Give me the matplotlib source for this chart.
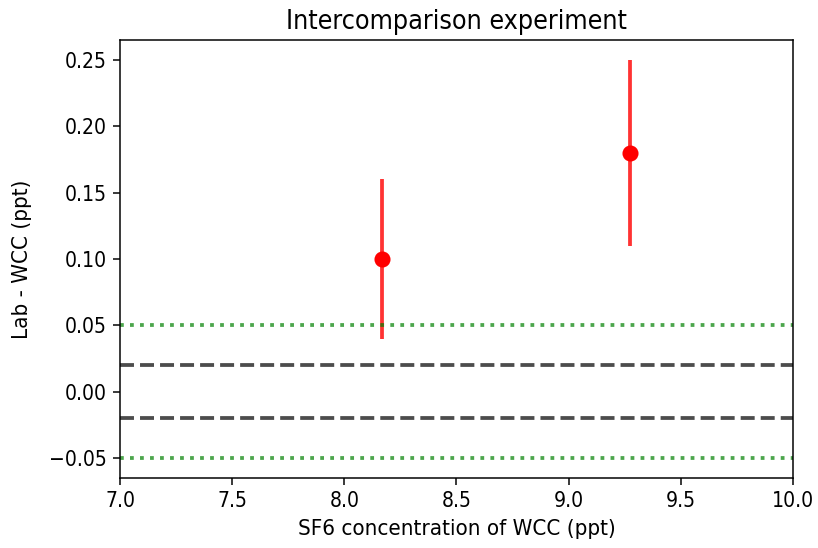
import matplotlib
matplotlib.use('Agg')
import matplotlib.pyplot as plt

plt.rcParams['font.stretch'] = 'condensed'
plt.rcParams['xtick.labelsize'] = 11.1
plt.rcParams['ytick.labelsize'] = 11.1
plt.rcParams['axes.labelsize'] = 11.75
plt.rcParams['axes.titlesize'] = 14.2

# lab minus WCC comparison points
wcc_conc = [8.17, 9.275]
lab_diff = [0.10, 0.18]
lab_err = [0.06, 0.07]

compat_goal = 0.02
ext_goal = 0.05

fig, ax = plt.subplots(figsize=(818 / 136, 548 / 136), dpi=136)

ax.errorbar(wcc_conc, lab_diff, yerr=lab_err, fmt='o', color='r',
            ecolor='r', elinewidth=2, markersize=7.5)
# make error bars lighter like the original
for coll in ax.collections:
    coll.set_alpha(0.8)

ax.axhline(ext_goal, color='g', ls=':', lw=2, alpha=0.7)
ax.axhline(-ext_goal, color='g', ls=':', lw=2, alpha=0.7)
ax.axhline(compat_goal, color='k', ls='--', lw=2, alpha=0.7)
ax.axhline(-compat_goal, color='k', ls='--', lw=2, alpha=0.7)

ax.set_xlim(7, 10)
ax.set_title('Intercomparison experiment')
ax.set_xlabel('SF6 concentration of WCC (ppt)')
ax.set_ylabel('Lab - WCC (ppt)', labelpad=9)

fig.subplots_adjust(left=0.147, right=0.969, top=0.927, bottom=0.128)
fig.savefig('out.png', dpi=136)
